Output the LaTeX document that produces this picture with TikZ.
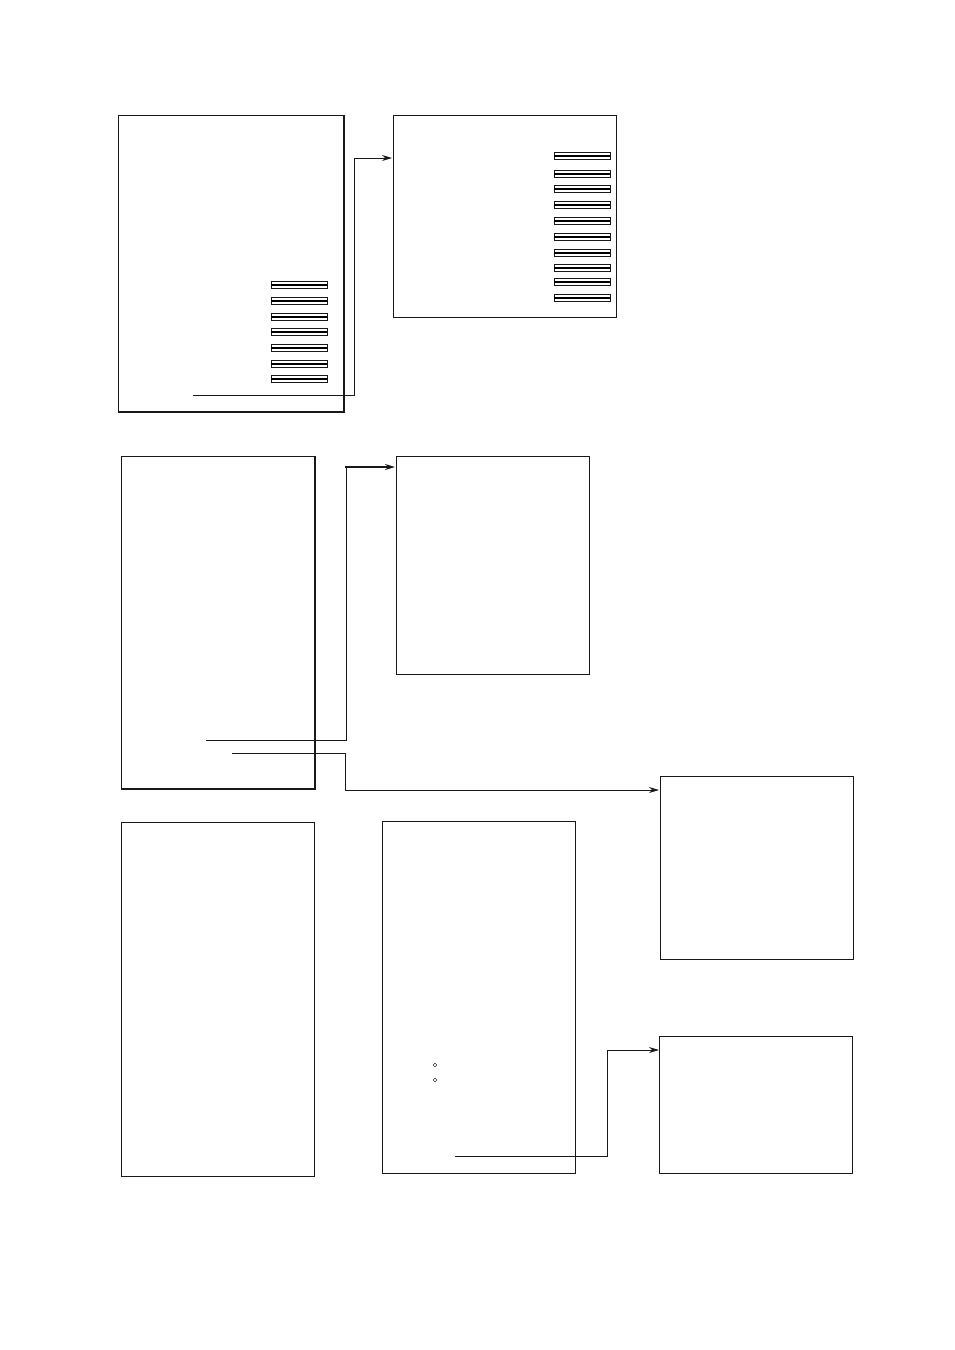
\documentclass[tikz,border=0pt]{standalone}
\usetikzlibrary{arrows.meta}
\begin{document}
\begin{tikzpicture}[x=1pt,y=-1pt,
  panel/.style={draw=black!90,line width=1pt},
  heavy/.style={draw=black!90,line width=2pt},
  wire/.style={draw=black!90,line width=0.9pt},
  tip/.style={-{Stealth[length=10pt,width=6pt]}},
  bar/.style={draw=black!90,line width=1pt}]
\useasboundingbox (0,0) rectangle (954,1350);
\newcommand{\stripe}[3]{%
  \draw[bar] (#1,#3-3.3) rectangle (#2,#3+3.3);
  \draw[black,line width=2.8pt] (#1,#3) -- (#2,#3);}
% box 1
\draw[panel] (344,115) -- (118,115) -- (118,412);
\draw[heavy] (344,114.5) -- (344,412) -- (118,412);
\foreach \y in {285,301,317,332,348,364,379} {\stripe{271}{327}{\y}}
% box 2
\draw[panel] (393,115) rectangle (616,317);
\foreach \y in {156,174,189,205,221,237,253,268,282,298} {\stripe{554}{610}{\y}}
% box 3
\draw[panel] (315,456) -- (121,456) -- (121,789);
\draw[heavy] (315,455.5) -- (315,789) -- (121,789);
% box 4
\draw[panel] (396,456) rectangle (589,674);
% box 5
\draw[panel] (660,776) rectangle (853,959);
% box 6
\draw[panel] (121,822) rectangle (314,1176);
% box 7
\draw[panel] (382,821) rectangle (575,1173);
\draw[line width=0.45pt] (435,1065) circle (1.9);
\draw[line width=0.45pt] (435,1080) circle (1.9);
% box 8
\draw[panel] (659,1036) rectangle (852,1173);
% connectors
\coordinate (s1) at (193,395);
\coordinate (e1) at (392,158);
\draw[wire,tip] (s1) -- (354,395) -- (354,158) -- (e1);
\coordinate (s2) at (206,740);
\coordinate (e2) at (395,467);
\draw[wire] (s2) -- (346,740) -- (346,467);
\draw[wire,line width=1.7pt,tip] (345.2,467) -- (e2);
\coordinate (s3) at (232,753);
\coordinate (e3) at (659,790);
\draw[wire,tip] (s3) -- (345,753) -- (345,790) -- (e3);
\coordinate (s4) at (455,1156);
\coordinate (e4) at (659,1050);
\draw[wire,tip] (s4) -- (607,1156) -- (607,1050) -- (e4);
\end{tikzpicture}
\end{document}
